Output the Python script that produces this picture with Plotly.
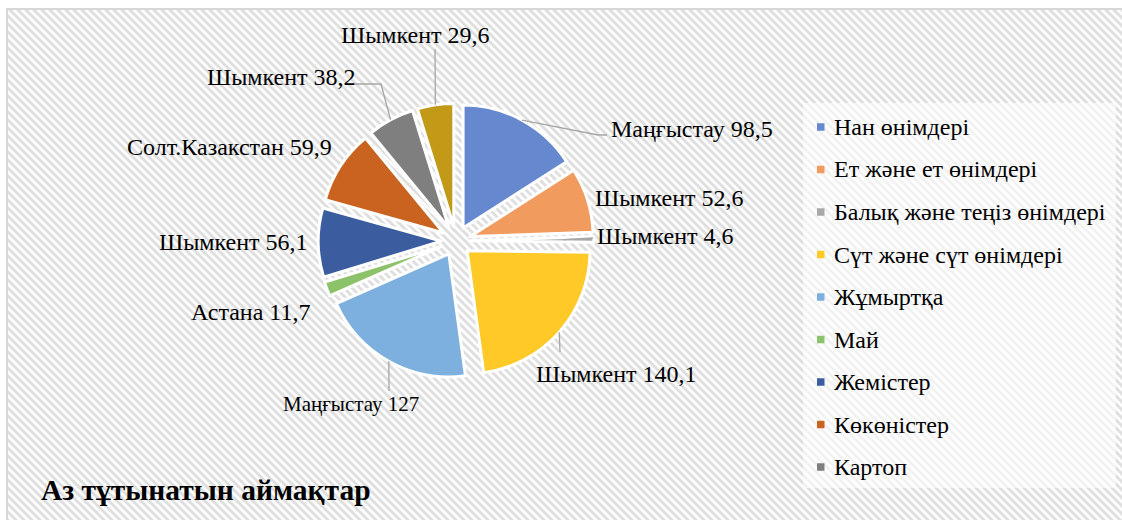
import math
import base64
import plotly.graph_objects as go

# ---------------- data ----------------
categories = ["Нан өнімдері", "Ет және ет өнімдері", "Балық және теңіз өнімдері",
              "Сүт және сүт өнімдері", "Жұмыртқа", "Май", "Жемістер",
              "Көкөністер", "Картоп", "Қант"]
regions = ["Маңғыстау", "Шымкент", "Шымкент", "Шымкент", "Маңғыстау",
           "Астана", "Шымкент", "Солт.Казакстан", "Шымкент", "Шымкент"]
values = [98.5, 52.6, 4.6, 140.1, 127, 11.7, 56.1, 59.9, 38.2, 29.6]
legend_shown = 9          # the original legend is clipped after 9 entries
title_text = "Аз тұтынатын аймақтар"

# ---------------- style ----------------
W, H = 1122, 520
colors = ["#6688cf", "#f19b5e", "#a9a9a9", "#ffc928", "#7db0de",
          "#8cc26a", "#3b5d9f", "#c9631f", "#7f7f7f", "#c39a17"]
FONT = "Liberation Serif"
cx, cy, r, pull = 456, 241, 123, 0.12

# label placement (pixel centre), leader waypoints, leader start factor, font size
label_style = [
    dict(pos=(692, 129), via=[(598, 135), (607, 135)], f=1.0, size=24),
    dict(pos=(669, 198), via=[], f=1.0, size=24),
    dict(pos=(665, 236), via=[(593, 238)], f=0.78, size=24),
    dict(pos=(616, 374), via=[(560, 352)], f=1.0, size=24),
    dict(pos=(351, 404), via=[(389, 391)], f=1.0, size=21),
    dict(pos=(250, 312), via=[], f=1.0, size=24),
    dict(pos=(233, 242), via=[], f=1.0, size=24),
    dict(pos=(229, 147), via=[], f=1.0, size=24),
    dict(pos=(281, 77), via=[(381, 84), (352, 84)], f=1.0, size=24),
    dict(pos=(415, 35), via=[(435, 49)], f=1.0, size=24),
]


def X(px):
    return px / W


def Y(py):
    return 1 - py / H


def fmt(v):
    return str(v).replace(".", ",")


# ---------------- background (striped chart area) ----------------
svg = f'''<svg xmlns="http://www.w3.org/2000/svg" width="{W}" height="{H}" viewBox="0 0 {W} {H}" preserveAspectRatio="none">
<defs><pattern id="p" patternUnits="userSpaceOnUse" width="8" height="8">
<rect width="8" height="8" fill="#ffffff"/>
<path d="M-1,7 L1,9 M0,0 L8,8 M7,-1 L9,1" stroke="#dfdfdf" stroke-width="3"/>
</pattern></defs>
<rect width="{W}" height="{H}" fill="#ffffff"/>
<rect x="7" y="9" width="{W + 10}" height="{H + 10}" fill="url(#p)" stroke="#d6d6d6" stroke-width="2"/>
<rect x="803" y="103" width="313" height="385" fill="#ffffff" fill-opacity="0.6"/>
</svg>'''
bg_src = "data:image/svg+xml;base64," + base64.b64encode(svg.encode("utf-8")).decode("ascii")

# ---------------- pie ----------------
half = r * (1 + pull)
fig = go.Figure()
fig.add_trace(go.Pie(
    labels=categories,
    values=values,
    customdata=regions,
    sort=False,
    direction="clockwise",
    rotation=0,
    pull=pull,
    textinfo="none",
    showlegend=False,
    marker=dict(colors=colors, line=dict(color="white", width=3)),
    domain=dict(x=[X(cx - half), X(cx + half)], y=[Y(cy + half), Y(cy - half)]),
    hovertemplate="%{label}<br>%{customdata} %{value}<extra></extra>",
))

shapes = []
annotations = []

# data labels with leader lines
total = sum(values)
cum = 0.0
for i, v in enumerate(values):
    mid = math.radians(360 * (cum + v / 2) / total)
    cum += v
    st = label_style[i]
    rr = half * st["f"]
    ex, ey = cx + rr * math.sin(mid), cy - rr * math.cos(mid)
    if st["via"]:
        pts = [(ex, ey)] + st["via"]
        path = "M " + " L ".join(f"{X(a):.5f},{Y(b):.5f}" for a, b in pts)
        shapes.append(dict(type="path", xref="paper", yref="paper", path=path,
                           line=dict(color="#a6a6a6", width=1.3)))
    annotations.append(dict(
        x=X(st["pos"][0]), y=Y(st["pos"][1]), xref="paper", yref="paper",
        text=f"{regions[i]} {fmt(v)}", showarrow=False,
        xanchor="center", yanchor="middle",
        font=dict(family=FONT, size=st["size"], color="#000000")))

# legend (drawn manually: original shows only the first entries)
leg_x, leg_y0, leg_dy, sq = 817, 127, 42.5, 7.5
for i in range(legend_shown):
    yy = leg_y0 + i * leg_dy
    shapes.append(dict(type="rect", xref="paper", yref="paper",
                       x0=X(leg_x), x1=X(leg_x + sq), y0=Y(yy + sq / 2), y1=Y(yy - sq / 2),
                       fillcolor=colors[i], line=dict(width=0)))
    annotations.append(dict(
        x=X(leg_x + 15), y=Y(yy), xref="paper", yref="paper",
        text=categories[i], showarrow=False, xanchor="left", yanchor="middle",
        font=dict(family=FONT, size=24, color="#000000")))

# title
annotations.append(dict(
    x=X(39), y=Y(490), xref="paper", yref="paper", text=f"<b>{title_text}</b>",
    showarrow=False, xanchor="left", yanchor="middle",
    font=dict(family=FONT, size=29.5, color="#000000")))

fig.update_layout(
    width=W, height=H,
    margin=dict(l=0, r=0, t=0, b=0),
    paper_bgcolor="white",
    plot_bgcolor="rgba(0,0,0,0)",
    images=[dict(source=bg_src, xref="paper", yref="paper", x=0, y=1,
                 sizex=1, sizey=1, xanchor="left", yanchor="top",
                 sizing="stretch", layer="below")],
    shapes=shapes,
    annotations=annotations,
    showlegend=False,
)

fig.write_html("out.html")
